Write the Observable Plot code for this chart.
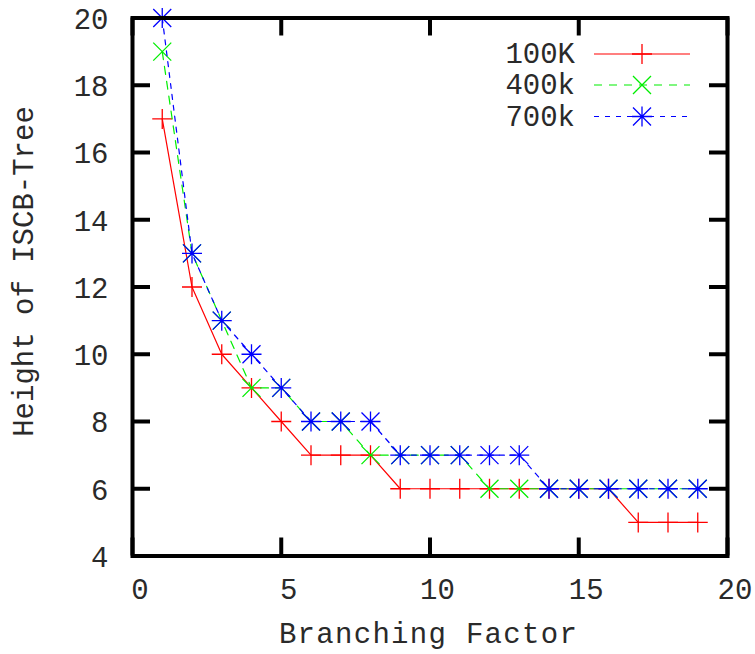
<!DOCTYPE html>
<html>
<head>
<meta charset="utf-8">
<script src="https://cdn.jsdelivr.net/npm/d3@7"></script>
<script src="https://cdn.jsdelivr.net/npm/@observablehq/plot@0.6"></script>
<style>
  html, body { margin: 0; padding: 0; background: #fff; }
  #chart svg { display: block; }
</style>
</head>
<body>
<div id="chart"></div>
<script>
// ---- data ----
const branching = [1, 2, 3, 4, 5, 6, 7, 8, 9, 10, 11, 12, 13, 14, 15, 16, 17, 18, 19];
const h100K = [17, 12, 10, 9, 8, 7, 7, 7, 6, 6, 6, 6, 6, 6, 6, 6, 5, 5, 5];
const h400k = [19, 13, 11, 9, 9, 8, 8, 7, 7, 7, 7, 6, 6, 6, 6, 6, 6, 6, 6];
const h700k = [20, 13, 11, 10, 9, 8, 8, 8, 7, 7, 7, 7, 7, 6, 6, 6, 6, 6, 6];
const seriesNames = ["100K", "400k", "700k"];
const xTicks = [0, 5, 10, 15, 20];
const yTicks = [4, 6, 8, 10, 12, 14, 16, 18, 20];

// ---- gnuplot-like point symbols ----
const symPlus = {draw(ctx, size) {
  const r = Math.sqrt(size / Math.PI);
  ctx.moveTo(-r, 0); ctx.lineTo(r, 0); ctx.moveTo(0, -r); ctx.lineTo(0, r);
}};
const symTimes = {draw(ctx, size) {
  const r = Math.sqrt(size / Math.PI) * 0.9;
  ctx.moveTo(-r, -r); ctx.lineTo(r, r); ctx.moveTo(-r, r); ctx.lineTo(r, -r);
}};
const symStar = {draw(ctx, size) { symPlus.draw(ctx, size); symTimes.draw(ctx, size); }};

const styles = [
  {stroke: "#ff0000", dash: null, symbol: symPlus},
  {stroke: "#00ee00", dash: "8,7", symbol: symTimes},
  {stroke: "#0000ff", dash: "5,6", symbol: symStar}
];
const seriesValues = [h100K, h400k, h700k];
const tables = seriesValues.map(vals => branching.map((b, i) => ({x: b, y: vals[i]})));

const W = 755, H = 654;
const mL = 132, mR = 28, mT = 17.5, mB = 98.5;
const pw = W - mL - mR, ph = H - mT - mB;
const tickLen = 18;
const font = "'Liberation Mono', 'DejaVu Sans Mono', monospace";
const textColor = "#2a2a2a";

const marks = [];
tables.forEach((t, i) => {
  marks.push(Plot.line(t, {x: "x", y: "y", stroke: styles[i].stroke, strokeWidth: 1.2,
    strokeDasharray: styles[i].dash}));
  marks.push(Plot.dot(t, {x: "x", y: "y", symbol: styles[i].symbol, r: 10, fill: "none",
    stroke: styles[i].stroke, strokeWidth: 1.3}));
});

const chart = Plot.plot({
  width: W, height: H,
  marginLeft: mL, marginRight: mR, marginTop: mT, marginBottom: mB,
  x: {domain: [0, 20], axis: null},
  y: {domain: [4, 20], axis: null},
  style: {fontFamily: font, fontSize: "29px", background: "#fff", color: "#000", overflow: "visible"},
  marks: [
    ...marks,
    // inward ticks on all four sides
    Plot.tickY(yTicks, {y: d => d, insetRight: pw - tickLen, stroke: "#000", strokeWidth: 4}),
    Plot.tickY(yTicks, {y: d => d, insetLeft: pw - tickLen, stroke: "#000", strokeWidth: 4}),
    Plot.tickX(xTicks, {x: d => d, insetTop: ph - tickLen, stroke: "#000", strokeWidth: 4}),
    Plot.tickX(xTicks, {x: d => d, insetBottom: ph - tickLen, stroke: "#000", strokeWidth: 4}),
    Plot.frame({stroke: "#000", strokeWidth: 4}),
    Plot.axisX({ticks: xTicks, tickSize: 0, tickPadding: 22, dx: 7.5, label: null, fill: textColor}),
    Plot.axisY({ticks: yTicks, tickSize: 0, tickPadding: 24, dy: 1.5, label: null, fill: textColor}),
    Plot.text(["Branching Factor"], {frameAnchor: "bottom", lineAnchor: "middle", textAnchor: "middle",
      dx: -1.5, dy: 78, fill: textColor}),
    Plot.text(["Height of ISCB-Tree"], {frameAnchor: "left", rotate: -90, lineAnchor: "middle",
      textAnchor: "middle", dx: -109, dy: -15.5, fill: textColor})
  ]
});

// widen the x-axis title slightly, as in the reference
d3.select(chart).selectAll("text")
  .filter(function() { return this.textContent === "Branching Factor"; })
  .attr("letter-spacing", "1.3px");

// ---- legend (top-right, inside the frame) ----
const svg = d3.select(chart);
const leg = svg.append("g").attr("class", "legend");
const rowY = [54, 85, 116.5];
seriesNames.forEach((name, i) => {
  const y = rowY[i];
  leg.append("text").attr("x", 575).attr("y", y).attr("dy", "0.32em")
    .attr("text-anchor", "end").attr("fill", textColor)
    .style("font-family", font).style("font-size", "29px").text(name);
  leg.append("line").attr("x1", 594).attr("x2", 690).attr("y1", y).attr("y2", y)
    .attr("stroke", styles[i].stroke).attr("stroke-width", 1.2)
    .attr("stroke-dasharray", styles[i].dash);
  leg.append("path").attr("transform", `translate(642,${y})`)
    .attr("d", d3.symbol(styles[i].symbol, Math.PI * 100)())
    .attr("fill", "none").attr("stroke", styles[i].stroke).attr("stroke-width", 1.3);
});

document.getElementById("chart").appendChild(chart);
</script>
</body>
</html>
